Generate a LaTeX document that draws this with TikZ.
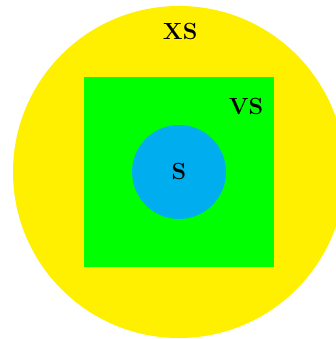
\documentclass[tikz,border=0pt]{standalone}
\usepackage{tikz}
\usetikzlibrary{positioning}
\definecolor{SetYellow}{RGB}{255, 240, 0}
\definecolor{SetGreen}{RGB}{0, 255, 0}
\definecolor{SetBlue}{RGB}{0, 174, 239}

\begin{document}
\begin{tikzpicture}[
    setlabel/.style={font=\large\bfseries, text=black}
  ]
    \useasboundingbox (-3.235,-3.018) rectangle (2.819,3.108);

    % Outer set
    \node[circle, fill=SetYellow, minimum size=6cm, inner sep=0pt] (xs) at (0,0) {};
    \node[setlabel] (xslabel) at (0.02,2.53) {XS};

    % Middle set
    \node[rectangle, fill=SetGreen, minimum size=3.434cm, inner sep=0pt] (vs) at (0,0) {};
    \node[setlabel] (vslabel) at (1.21,1.19) {VS};

    % Inner set
    \node[circle, fill=SetBlue, minimum size=1.698cm, inner sep=0pt] (s) at (0,0) {};
    \node[setlabel] (slabel) at (s.center) {S};
  \end{tikzpicture}
\end{document}
